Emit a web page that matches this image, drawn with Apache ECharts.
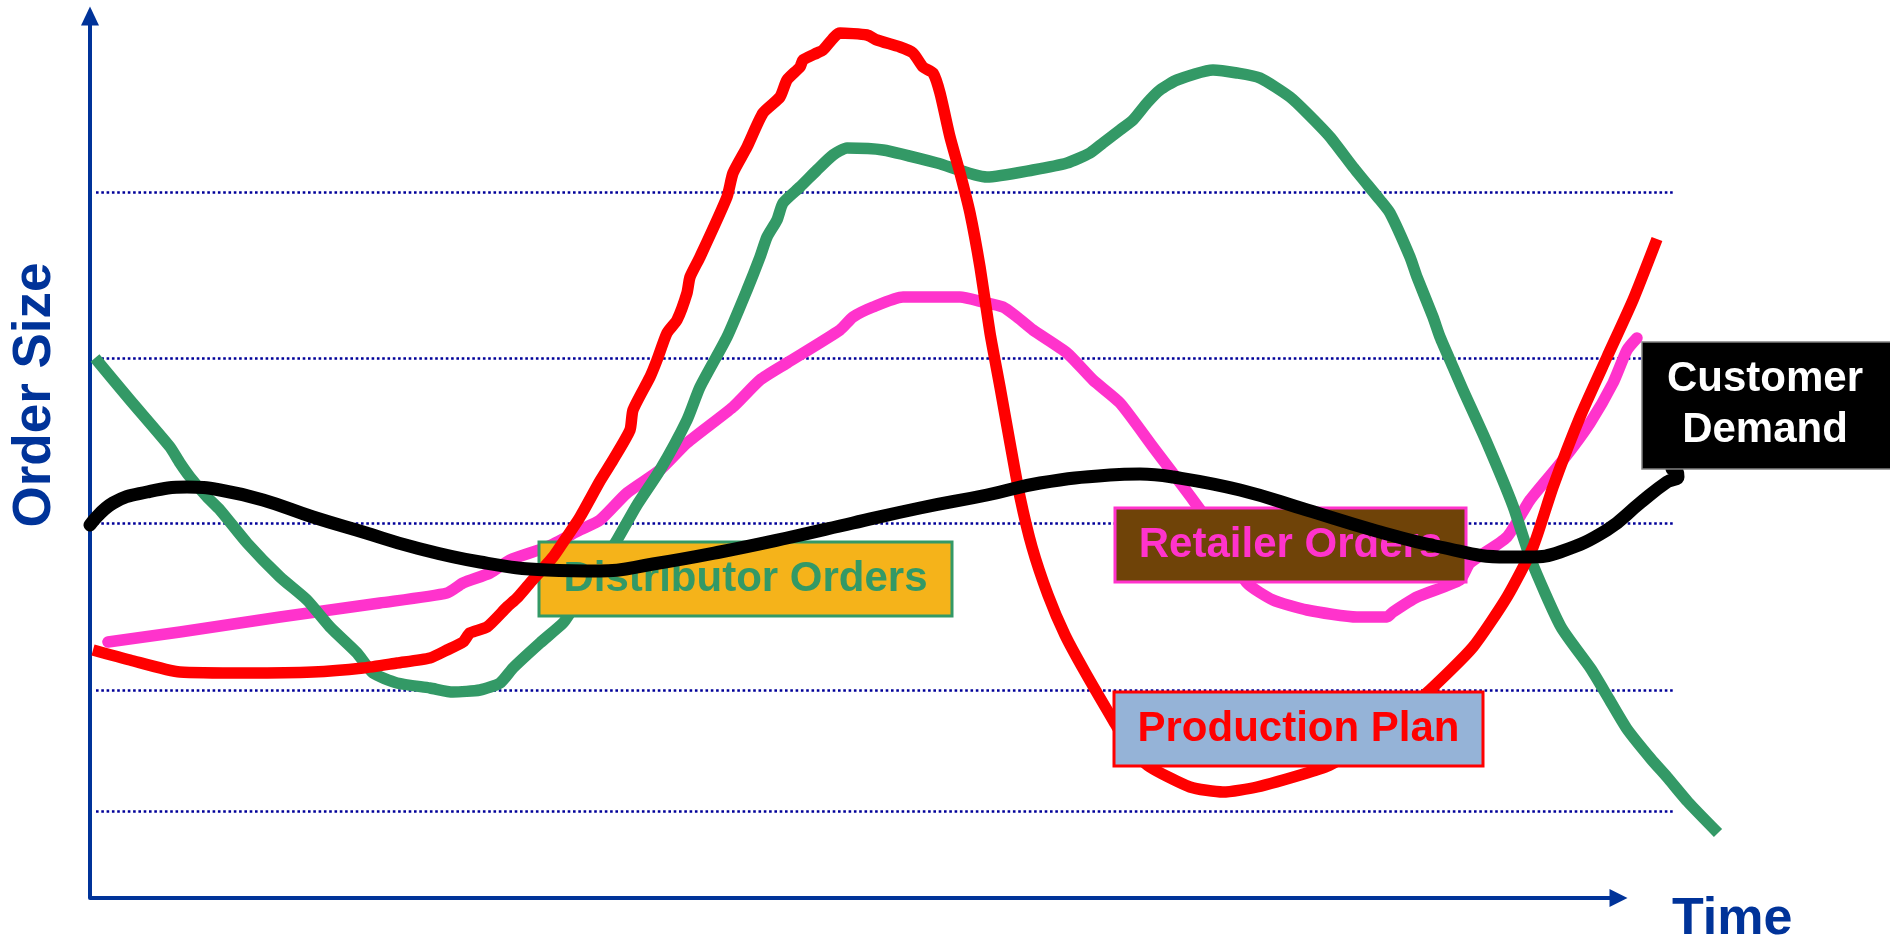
<!DOCTYPE html>
<html>
<head>
<meta charset="utf-8">
<script src="https://cdn.jsdelivr.net/npm/echarts@6/dist/echarts.min.js"></script>
<style>
html,body{margin:0;padding:0;background:#ffffff;}
#chart{width:1890px;height:942px;}
</style>
</head>
<body>
<div id="chart"></div>
<script>
// ---- Data (time units on x, order size units on y) ----
const customerTime = [0, 2.3, 5.7, 9.7, 13.0, 17.3, 22.3, 27.3, 32.3, 39.0, 45.7, 51.0, 56.3, 63.0, 69.7, 76.3, 83.0, 89.7, 95.0, 102.0, 105.0, 108.3, 115.0, 121.7, 128.3, 135.0, 141.7, 144.0, 147.0, 151.7, 155.0, 157.7, 158.8, 158.7, 158.2];
const customerDemand = [37.3, 39.5, 40.6, 41.1, 40.8, 39.8, 38.1, 36.6, 35.1, 33.6, 32.8, 32.7, 33.4, 34.6, 36.0, 37.5, 39.0, 40.3, 41.5, 42.3, 42.4, 42.1, 40.8, 38.8, 36.8, 35.1, 34.1, 34.1, 34.6, 36.8, 39.5, 41.6, 42.1, 42.7, 42.9];

const retailerTime = [1.8, 9.0, 19.0, 29.0, 35.7, 37.3, 40.0, 42.0, 45.7, 49.0, 51.0, 53.7, 57.0, 59.7, 64.3, 67.0, 69.7, 75.0, 76.3, 78.3, 81.3, 87.0, 89.3, 91.3, 92.7, 94.3, 97.7, 100.3, 103.0, 106.3, 110.3, 113.5, 115.7, 118.3, 121.7, 126.7, 129.7, 130.3, 132.7, 137.0, 138.0, 141.7, 144.0, 147.3, 150.0, 152.3, 153.7, 154.7];
const retailerOrders = [25.6, 26.6, 28.1, 29.5, 30.5, 31.5, 32.5, 33.8, 35.1, 36.8, 37.8, 40.5, 42.8, 45.5, 49.1, 51.8, 53.5, 56.8, 58.1, 59.1, 60.1, 60.1, 59.6, 59.1, 58.1, 56.8, 54.5, 51.8, 49.5, 45.1, 39.8, 35.3, 31.5, 29.8, 28.8, 28.1, 28.1, 28.6, 30.1, 31.8, 33.5, 36.1, 39.8, 43.8, 47.5, 51.5, 54.8, 56.0];

const distributorTime = [0.5, 4.0, 8.0, 9.0, 10.0, 11.7, 13.0, 15.7, 19.0, 21.7, 24.0, 26.7, 28.3, 30.7, 34.0, 36.3, 39.0, 41.0, 42.3, 45.0, 47.3, 48.0, 50.5, 52.7, 54.7, 57.0, 59.7, 61.0, 63.7, 65.7, 67.0, 67.7, 68.7, 69.3, 71.0, 72.7, 74.3, 75.7, 79.3, 84.7, 89.7, 94.3, 97.7, 100.0, 101.3, 103.0, 104.3, 105.7, 107.0, 108.7, 112.3, 114.7, 117.0, 120.0, 121.7, 124.0, 126.3, 129.0, 130.0, 132.0, 132.7, 134.3, 135.0, 136.3, 137.3, 139.7, 142.3, 144.1, 147.1, 150.1, 151.9, 153.7, 156.1, 157.7, 159.8, 162.8];
const distributorOrders = [54.0, 49.8, 45.1, 43.5, 42.1, 40.1, 38.8, 35.5, 32.1, 29.8, 27.1, 24.5, 22.5, 21.5, 21.0, 20.6, 20.8, 21.5, 23.0, 25.5, 27.5, 28.5, 32.3, 35.8, 39.3, 42.8, 47.8, 51.1, 56.1, 60.8, 64.1, 66.1, 67.8, 69.5, 71.1, 72.8, 74.3, 75.0, 74.8, 73.5, 72.1, 72.8, 73.5, 74.5, 75.5, 76.8, 77.8, 79.5, 80.8, 81.8, 82.8, 82.5, 82.0, 80.1, 78.5, 76.1, 73.1, 69.8, 68.5, 64.1, 62.1, 58.1, 56.1, 53.1, 50.8, 45.5, 39.2, 33.8, 27.1, 22.9, 19.9, 16.9, 13.9, 12.1, 9.6, 6.5];

const productionTime = [0.3, 4.0, 9.0, 15.7, 22.3, 27.3, 30.7, 34.0, 35.7, 37.3, 38.0, 39.7, 41.7, 42.7, 44.0, 46.3, 47.0, 49.0, 51.0, 52.3, 54.0, 54.3, 56.0, 56.7, 57.7, 58.7, 59.7, 60.0, 61.0, 63.7, 64.3, 65.7, 67.3, 69.0, 69.7, 71.0, 71.3, 72.7, 73.3, 75.0, 77.7, 78.7, 81.0, 82.3, 83.3, 84.3, 85.0, 86.0, 87.0, 88.0, 89.0, 90.0, 91.0, 92.0, 93.0, 94.2, 95.8, 97.5, 99.5, 102.3, 104.0, 106.0, 110.0, 113.3, 116.7, 121.7, 124.0, 129.0, 134.0, 138.3, 141.7, 144.3, 146.3, 149.0, 151.7, 154.3, 156.7];
const productionPlan = [24.8, 23.8, 22.6, 22.5, 22.6, 23.0, 23.5, 24.0, 24.8, 25.6, 26.5, 27.1, 29.1, 30.0, 31.5, 34.1, 35.1, 38.1, 41.7, 43.8, 46.8, 48.8, 52.1, 53.8, 56.5, 57.8, 60.5, 62.1, 64.1, 70.1, 72.5, 75.1, 78.5, 80.1, 81.8, 83.1, 83.8, 84.5, 84.8, 86.5, 86.3, 85.8, 85.1, 84.5, 83.1, 82.5, 80.5, 76.1, 72.5, 68.5, 63.1, 56.5, 51.1, 45.5, 40.1, 35.1, 30.3, 26.3, 22.6, 17.8, 15.0, 13.1, 11.1, 10.6, 11.1, 12.5, 13.3, 16.5, 20.8, 25.1, 30.1, 35.1, 41.1, 48.1, 54.1, 59.8, 65.9];

// dotted reference levels and their time span; x-axis arrow end
const gridLevels = [70.6, 54.0, 37.5, 20.8, 8.7];
const gridSpan = [0.6, 158.3];
const timeAxisEnd = 152.85;

// labels
const labelTexts = {
  yTitle: 'Order Size',
  xTitle: 'Time',
  distributor: 'Distributor Orders',
  retailer: 'Retailer Orders',
  production: 'Production Plan',
  customer: 'Customer\nDemand'
};

// ---- Chart ----
const FONT = '"Liberation Sans", Arial, Helvetica, sans-serif';
const AXIS = '#003399';
const pairs = (t, v) => t.map((x, i) => [x, v[i]]);

function textEl(text, x, y, size, fill, z, extra) {
  return Object.assign({
    type: 'text', x: x, y: y, z: z, silent: true,
    style: {
      text: text, font: 'bold ' + size + 'px ' + FONT, fill: fill,
      align: 'center', verticalAlign: 'middle',
      textAlign: 'center', textVerticalAlign: 'middle'
    }
  }, extra || {});
}
function rectEl(x, y, w, h, fill, stroke, lw, z) {
  return { type: 'rect', z: z, silent: true, shape: { x: x, y: y, width: w, height: h },
           style: { fill: fill, stroke: stroke, lineWidth: lw } };
}

const chart = echarts.init(document.getElementById('chart'), null, { renderer: 'canvas' });

const lineBase = { type: 'line', showSymbol: false, symbol: 'none', silent: true,
                   emphasis: { disabled: true }, clip: false };

const option = {
  animation: false,
  backgroundColor: '#ffffff',
  tooltip: { show: false },
  grid: { left: 90, right: 100, top: 16, bottom: 44, containLabel: false, outerBoundsMode: 'none' },
  xAxis: {
    type: 'value', min: 0, max: 170,
    axisLine: { show: false }, axisTick: { show: false },
    axisLabel: { show: false }, splitLine: { show: false }
  },
  yAxis: {
    type: 'value', min: 0, max: 88.2,
    axisLine: { show: true, onZero: false, lineStyle: { color: AXIS, width: 4 },
                symbol: ['none', 'triangle'], symbolSize: [18, 19] },
    axisTick: { show: false }, axisLabel: { show: false }, splitLine: { show: false }
  },
  series: [
    Object.assign({}, lineBase, {
      name: 'Retailer Orders', z: 1,
      data: pairs(retailerTime, retailerOrders), smooth: 0.2,
      lineStyle: { color: '#FF33CC', width: 11.5, cap: 'round', join: 'round' },
      markLine: {
        silent: true, z: 0, animation: false,
        symbol: ['none', 'triangle'], symbolSize: [18, 18],
        label: { show: false }, emphasis: { disabled: true },
        itemStyle: { color: AXIS },
        lineStyle: { color: AXIS, width: 4, type: 'solid' },
        data: [[{ coord: [0, 0], symbol: 'none' },
                { coord: [timeAxisEnd, 0], symbol: 'triangle', symbolSize: 18 }]]
      }
    }),
    Object.assign({}, lineBase, {
      name: 'Distributor Orders', z: 2,
      data: pairs(distributorTime, distributorOrders), smooth: 0.2,
      lineStyle: { color: '#339966', width: 11.5, cap: 'butt', join: 'round' },
      markLine: {
        silent: true, z: 0, animation: false,
        symbol: ['none', 'none'],
        label: { show: false }, emphasis: { disabled: true },
        lineStyle: { color: '#000099', width: 2.6, type: [2.6, 2.7] },
        data: gridLevels.map(v => [{ coord: [gridSpan[0], v] }, { coord: [gridSpan[1], v] }])
      }
    }),
    Object.assign({}, lineBase, {
      name: 'Production Plan', z: 4,
      data: pairs(productionTime, productionPlan), smooth: 0.2,
      lineStyle: { color: '#FF0000', width: 11.5, cap: 'butt', join: 'round' }
    }),
    Object.assign({}, lineBase, {
      name: 'Customer Demand', z: 6,
      data: pairs(customerTime, customerDemand), smooth: 0.45,
      lineStyle: { color: '#000000', width: 13, cap: 'round', join: 'round' }
    })
  ],
  graphic: {
    elements: [
      textEl(labelTexts.yTitle, 35, 395, 53, AXIS, 10, { rotation: Math.PI / 2 }),
      textEl(labelTexts.xTitle, 1672, 920, 52, AXIS, 10, {
        style: { text: labelTexts.xTitle, font: 'bold 52px ' + FONT, fill: AXIS,
                 align: 'left', verticalAlign: 'middle', textAlign: 'left', textVerticalAlign: 'middle' } }),
      rectEl(539, 542, 413, 74, '#F5B31A', '#339966', 3, 3),
      textEl(labelTexts.distributor, 745.5, 579, 42, '#339966', 3.1),
      rectEl(1115, 508, 351, 74, '#6F4308', '#FF33CC', 3, 5),
      textEl(labelTexts.retailer, 1290.5, 545, 42, '#FF33CC', 5.1),
      rectEl(1114, 692, 369, 74, '#95B3D7', '#FF0000', 3, 5),
      textEl(labelTexts.production, 1298.5, 729, 42, '#FF0000', 5.1),
      rectEl(1642, 342, 260, 127, '#000000', '#808080', 1.5, 7),
      textEl(labelTexts.customer, 1765, 405, 42, '#FFFFFF', 7.1, {
        style: { text: labelTexts.customer, font: 'bold 42px ' + FONT, fill: '#FFFFFF', lineHeight: 51,
                 align: 'center', verticalAlign: 'middle', textAlign: 'center', textVerticalAlign: 'middle' } })
    ]
  }
};

chart.setOption(option);
</script>
</body>
</html>
